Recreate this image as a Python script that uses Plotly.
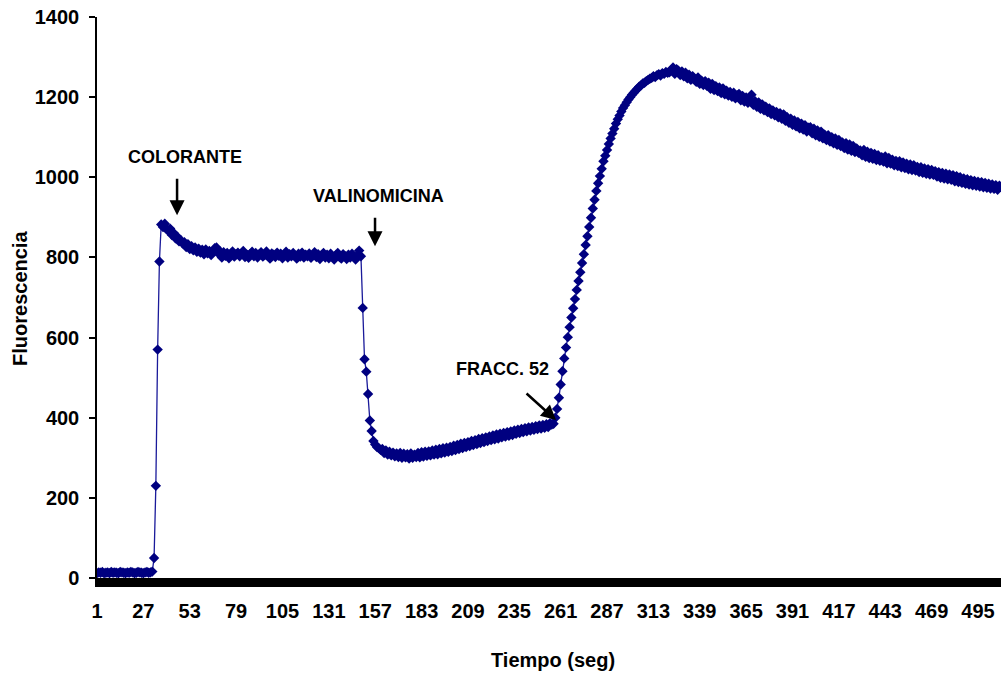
import plotly.graph_objects as go

# ---- data (fluorescence vs time, one reading per second) ----
baseline = [12, 14, 13, 15, 12, 13, 14, 12, 15, 13, 14, 13, 12, 15, 14, 13,
            12, 14, 13, 15, 14, 12, 13, 15, 14, 13, 12, 14, 15, 13, 14, 16]
dye_rise = [50, 230, 570, 790, 882]
dye_decay = [876, 884, 871, 866, 872, 856, 861, 848, 852, 840, 843, 835, 838,
             826, 833, 821, 828, 818, 825, 814, 822, 812, 819, 808, 820, 810,
             816, 806, 814, 823, 825, 810, 815]
plateau = [800, 813, 804, 811, 798, 809, 815, 802, 808, 812,
           803, 810, 816, 801, 807, 799, 809, 814, 803, 811,
           800, 808, 813, 802, 806, 815, 804, 797, 810, 807,
           801, 812, 804, 809, 798, 806, 814, 800, 808, 803,
           811, 805, 797, 809, 802, 812, 800, 807, 803, 810,
           799, 805, 813, 801, 808, 796, 806, 811, 800, 807,
           798, 809, 803, 795, 806, 811, 801, 797, 808, 804,
           796, 807, 800, 809, 802, 795, 805, 817, 803]
valino_drop = [674, 546, 515, 459, 393, 367, 342, 333, 327, 324, 320]
valley = [322, 312, 318, 308, 315, 306, 313, 304, 311, 302,
          312, 300, 310, 301, 309, 298, 311, 300, 308, 302,
          312, 301, 314, 303, 315, 305, 316, 306, 318, 308,
          320, 309, 322, 311, 324, 313, 325, 315, 327, 317,
          330, 319, 332, 322, 335, 324, 337, 327, 339, 329,
          342, 332, 344, 334, 347, 337, 349, 339, 351, 342,
          353, 344, 356, 346, 358, 348, 360, 351, 362, 353,
          364, 355, 366, 357, 368, 360, 370, 362, 372, 364,
          374, 366, 376, 368, 377, 370, 379, 372, 381, 373,
          382, 375, 384, 377, 386, 383]
fracc_rise = [385, 400, 422, 450, 483, 516, 548, 575, 601, 626,
              650, 673, 696, 719, 741, 763, 786, 808, 831, 853,
              876, 899, 922, 944, 966, 985, 1003, 1021, 1040, 1054,
              1068, 1083, 1097, 1109, 1121, 1134, 1145, 1154, 1164, 1173,
              1180, 1187, 1194, 1200, 1206, 1211, 1216, 1221, 1226, 1229,
              1234, 1236, 1240, 1243, 1246, 1248, 1252, 1250, 1255, 1257,
              1254, 1260, 1258, 1263, 1261]
fracc_decay = [1262, 1268, 1274, 1258, 1270, 1266, 1255, 1264, 1252,
               1261, 1247, 1256, 1243, 1252, 1246, 1238, 1249, 1233, 1241,
               1230, 1240, 1228, 1236, 1221, 1233, 1218, 1227, 1215, 1224,
               1210, 1222, 1207, 1216, 1204, 1213, 1201, 1211, 1197, 1205,
               1208, 1192, 1203, 1189, 1199, 1186, 1195, 1206, 1181, 1190,
               1176, 1187, 1171, 1182, 1167, 1176, 1163, 1172, 1158, 1167,
               1155, 1163, 1150, 1160, 1146, 1157, 1141, 1150, 1136, 1146,
               1131, 1142, 1127, 1138, 1122, 1134, 1119, 1130, 1114, 1124,
               1125, 1110, 1121, 1105, 1117, 1101, 1114, 1097, 1106, 1093,
               1105, 1089, 1100, 1085, 1097, 1081, 1093, 1078, 1087, 1073,
               1085, 1069, 1082, 1066, 1078, 1063, 1072, 1061, 1067, 1055,
               1068, 1051, 1064, 1048, 1061, 1046, 1058, 1043, 1055, 1041,
               1050, 1039, 1052, 1035, 1048, 1034, 1044, 1030, 1041, 1028,
               1040, 1025, 1037, 1023, 1034, 1020, 1032, 1018, 1030, 1017,
               1026, 1013, 1025, 1011, 1022, 1009, 1020, 1007, 1018, 1006,
               1015, 1002, 1013, 999, 1011, 997, 1009, 995, 1007, 994,
               1005, 990, 1003, 988, 1000, 986, 997, 984, 995, 982,
               993, 980, 991, 979, 989, 977, 988, 975, 986, 974,
               984, 972, 982, 971, 980, 969, 979, 975]

fluorescence = (baseline + dye_rise + dye_decay + plateau + valino_drop
                + valley + fracc_rise + fracc_decay)
tiempo = list(range(1, len(fluorescence) + 1))

x_ticks = [1, 27, 53, 79, 105, 131, 157, 183, 209, 235, 261, 287, 313, 339,
           365, 391, 417, 443, 469, 495]
y_ticks = [0, 200, 400, 600, 800, 1000, 1200, 1400]

FONT = "Liberation Sans, Arial, sans-serif"
NAVY = "#000080"

fig = go.Figure()
fig.add_trace(go.Scatter(
    x=tiempo, y=fluorescence, mode="lines+markers",
    line=dict(color="#1a1a9a", width=1.3),
    marker=dict(symbol="diamond", size=8, color=NAVY, line=dict(width=0)),
    showlegend=False, hoverinfo="x+y",
))

fig.update_layout(
    width=1001, height=676,
    margin=dict(l=97, r=0, t=17, b=98, autoexpand=False),
    paper_bgcolor="white", plot_bgcolor="white",
    font=dict(family=FONT, size=20, color="black", weight="bold"),
    xaxis=dict(
        range=[1, 507.9], tickmode="array", tickvals=x_ticks,
        ticktext=[str(v) for v in x_ticks], ticks="", showgrid=False,
        zeroline=False, showline=True, linecolor="black", linewidth=9,
        tickfont=dict(family=FONT, size=20, color="black", weight="bold"),
        ticklabelstandoff=7,
    ),
    yaxis=dict(
        range=[0, 1400], tickmode="array", tickvals=y_ticks,
        ticks="outside", ticklen=6, tickwidth=1.5, tickcolor="black",
        showgrid=False, zeroline=False, showline=True, linecolor="black",
        linewidth=1.5,
        tickfont=dict(family=FONT, size=20, color="black", weight="bold"),
        ticklabelstandoff=6,
    ),
)

ann_font = dict(family=FONT, size=18, color="black", weight="bold")
# texts
fig.add_annotation(x=50.3, y=1051, text="COLORANTE", showarrow=False, font=ann_font,
                   xanchor="center", yanchor="middle")
fig.add_annotation(x=158.6, y=953, text="VALINOMICINA", showarrow=False, font=ann_font,
                   xanchor="center", yanchor="middle")
fig.add_annotation(x=228.1, y=522, text="FRACC. 52", showarrow=False, font=ann_font,
                   xanchor="center", yanchor="middle")
# arrows
for xa, ya, ax, ay in [(45.9, 905, 0, -38), (156.9, 828, 0, -30), (258.4, 394, -31, -28)]:
    fig.add_annotation(x=xa, y=ya, ax=ax, ay=ay, text="", showarrow=True,
                       arrowhead=2, arrowsize=1.2, arrowwidth=2.5,
                       arrowcolor="black")
# axis titles
fig.add_annotation(xref="paper", yref="paper", x=0.5044, y=-0.1462,
                   xanchor="center", yanchor="middle",
                   text="Tiempo (seg)", showarrow=False,
                   font=dict(family=FONT, size=20, color="black", weight="bold"))
fig.add_annotation(xref="paper", yref="paper", x=-0.0852, y=0.4991,
                   xanchor="center", yanchor="middle",
                   text="Fluorescencia", showarrow=False, textangle=-90,
                   font=dict(family=FONT, size=20, color="black", weight="bold"))

fig.write_html("out.html")
